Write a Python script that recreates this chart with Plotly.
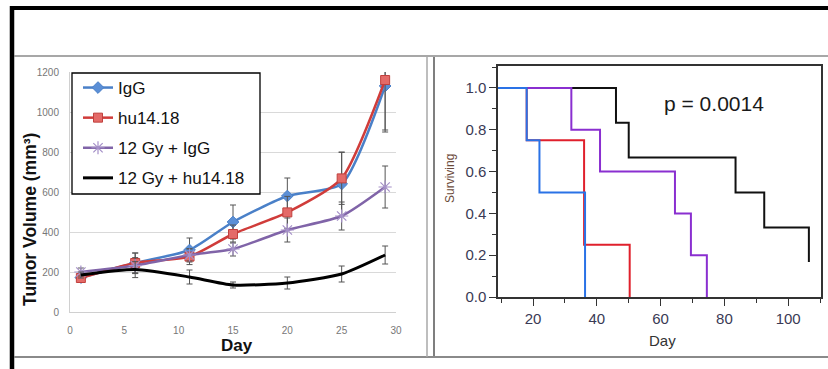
import plotly.graph_objects as go

W, H = 828, 369

# ---------------- data: tumor volume ----------------
days = [1, 6, 11, 15, 20, 25, 29]
igg = [172, 245, 310, 450, 580, 640, 1130]
igg_err = [15, 50, 60, 85, 90, 160, 220]
hu = [170, 245, 277, 390, 498, 668, 1160]
hu_err = [15, 50, 40, 45, 80, 130, 260]
gy_igg = [200, 232, 285, 315, 410, 480, 625]
gy_igg_err = [20, 40, 30, 35, 60, 70, 105]
gy_hu = [185, 212, 175, 135, 145, 190, 285]
gy_hu_err = [15, 40, 35, 15, 30, 40, 45]
legend_names = ["IgG", "hu14.18", "12 Gy + IgG", "12 Gy + hu14.18"]

# ---------------- data: survival (Kaplan-Meier steps) ----------------
km_blue_x = [0, 18, 22, 36.3]
km_blue_y = [1.0, 0.75, 0.5, 0.0]
km_red_x = [0, 18, 36, 50.3]
km_red_y = [1.0, 0.75, 0.25, 0.0]
km_purple_x = [0, 32, 41, 64.5, 69.5, 74.5]
km_purple_y = [1.0, 0.8, 0.6, 0.4, 0.2, 0.0]
km_black_x = [0, 46, 50, 83.5, 92.5, 106.5]
km_black_y = [1.0, 0.833, 0.667, 0.5, 0.333, 0.167]
p_text = "p = 0.0014"


def px(x):
    return x / W


def py(y):
    return 1 - y / H


FONT = "Arial, Liberation Sans, sans-serif"

fig = go.Figure()

err_style = dict(type="data", thickness=1, width=3, color="#555555")

fig.add_trace(go.Scatter(
    x=days, y=igg, name=legend_names[0], legendgroup="a",
    mode="lines+markers", line=dict(color="#4a80c8", width=2.5, shape="spline", smoothing=0.6),
    marker=dict(symbol="diamond", size=9, color="#5b8fd6", line=dict(color="#4a80c8", width=1)),
    error_y=dict(array=igg_err, **err_style), xaxis="x", yaxis="y"))
fig.add_trace(go.Scatter(
    x=days, y=hu, name=legend_names[1], legendgroup="b",
    mode="lines+markers", line=dict(color="#d03c3a", width=2.5, shape="spline", smoothing=0.6),
    marker=dict(symbol="square", size=9, color="#e46a68", line=dict(color="#c0403d", width=1)),
    error_y=dict(array=hu_err, **err_style), xaxis="x", yaxis="y"))
fig.add_trace(go.Scatter(
    x=days, y=gy_igg, name=legend_names[2], legendgroup="c",
    mode="lines+markers", line=dict(color="#8064a8", width=2.5, shape="spline", smoothing=0.6),
    marker=dict(symbol="asterisk-open", size=11, color="#a590c8", line=dict(color="#a08cc4", width=1.2)),
    error_y=dict(array=gy_igg_err, **err_style), xaxis="x", yaxis="y"))
fig.add_trace(go.Scatter(
    x=days, y=gy_hu, name=legend_names[3], legendgroup="d",
    mode="lines", line=dict(color="#000000", width=3, shape="spline", smoothing=0.6),
    error_y=dict(array=gy_hu_err, **err_style), xaxis="x", yaxis="y"))

# survival curves (drawn black, purple, red, blue so blue is on top)
for xs, ys, col in [(km_black_x, km_black_y, "#111111"),
                    (km_purple_x, km_purple_y, "#8a2fd0"),
                    (km_red_x, km_red_y, "#e0202c"),
                    (km_blue_x, km_blue_y, "#2a72e6")]:
    fig.add_trace(go.Scatter(x=xs, y=ys, mode="lines", line=dict(color=col, width=2, shape="hv"),
                             showlegend=False, xaxis="x2", yaxis="y2", hoverinfo="skip"))

left_tick_font = dict(family=FONT, size=10, color="#777777")
right_tick_font = dict(family=FONT, size=15, color="#3a3a55")

fig.update_layout(
    template="none",
    width=W, height=H, autosize=False,
    margin=dict(l=0, r=0, t=0, b=0, pad=0, autoexpand=False),
    paper_bgcolor="white", plot_bgcolor="white",
    font=dict(family=FONT),
    xaxis=dict(domain=[px(70), px(396)], range=[0, 30], dtick=5, tick0=0, automargin=False,
               showgrid=False, zeroline=False, showline=True, linecolor="#d0d0d0", linewidth=1,
               ticks="", tickfont=left_tick_font, ticklabelstandoff=9, anchor="y"),
    yaxis=dict(domain=[py(312), py(72)], range=[0, 1200], dtick=200, tick0=0, automargin=False,
               showgrid=True, gridcolor="#d9d9d9", gridwidth=1, zeroline=False,
               showline=True, linecolor="#d0d0d0", linewidth=1,
               ticks="", tickfont=left_tick_font, ticklabelstandoff=8, anchor="x"),
    xaxis2=dict(domain=[px(498), px(821)], range=[9, 110.3], dtick=20, tick0=0, automargin=False,
                showgrid=False, zeroline=False, showline=True, mirror=True,
                linecolor="#333333", linewidth=1.5, ticks="outside", ticklen=7, tickwidth=1.2,
                tickcolor="#333333", tickfont=right_tick_font,
                minor=dict(dtick=10, tick0=0, ticks="outside", ticklen=4, tickcolor="#333333", tickwidth=1),
                anchor="y2"),
    yaxis2=dict(domain=[py(297), py(66)], range=[0, 1.105], dtick=0.2, tick0=0, tickformat=".1f",
                automargin=False,
                showgrid=False, zeroline=False, showline=True, mirror=True,
                linecolor="#333333", linewidth=1.5, ticks="outside", ticklen=7, tickwidth=1.2,
                tickcolor="#333333", tickfont=right_tick_font,
                minor=dict(dtick=0.1, tick0=0, ticks="outside", ticklen=4, tickcolor="#333333", tickwidth=1),
                anchor="x2"),
    legend=dict(x=px(78), y=py(70), xanchor="left", yanchor="top",
                bgcolor="rgba(0,0,0,0)", borderwidth=0,
                font=dict(family=FONT, size=17, color="#111111"),
                traceorder="grouped", tracegroupgap=5, itemwidth=30),
    showlegend=True,
)

annotations = [
    dict(text="<b>Tumor Volume (mm³)</b>", x=px(30), y=py(220), textangle=-90,
         font=dict(family=FONT, size=17.5, color="#111111")),
    dict(text="<b>Day</b>", x=px(237), y=py(345), font=dict(family=FONT, size=17, color="#111111")),
    dict(text="Surviving", x=px(450), y=py(179), textangle=-90,
         font=dict(family=FONT, size=12, color="#6b4a3a")),
    dict(text="Day", x=px(662), y=py(340), font=dict(family=FONT, size=15, color="#333333")),
    dict(text=p_text, x=px(714), y=py(103), font=dict(family=FONT, size=21, color="#1a1a1a")),
]
for a in annotations:
    a.update(xref="paper", yref="paper", showarrow=False, xanchor="center", yanchor="middle")
fig.update_layout(annotations=annotations)


def line(x0, y0, x1, y1, color, width):
    return dict(type="line", xref="paper", yref="paper", x0=px(x0), y0=py(y0), x1=px(x1), y1=py(y1),
                line=dict(color=color, width=width), layer="above")


# white legend frame (drawn above the gridlines, beneath the legend text)
legend_box = dict(type="rect", xref="paper", yref="paper",
                  x0=px(72), x1=px(260), y0=py(194), y1=py(73),
                  fillcolor="white", line=dict(color="#000000", width=1.3), layer="above")

shapes = [
    legend_box,
    line(10, 8, 828, 8, "#000000", 4),        # top black border
    line(12, 6, 12, 369, "#000000", 4.5),     # left black border
    line(14, 56, 828, 56, "#8a8a8a", 1.5),    # upper separator
    line(14, 357, 828, 357, "#8a8a8a", 2),    # lower separator
    line(427, 56, 427, 357, "#a8a8a8", 1.5),  # left panel right edge
    line(434, 57, 434, 356, "#555555", 1.5),  # right panel left edge
]
fig.update_layout(shapes=shapes)

fig.write_html("out.html", config={"displayModeBar": False},
               post_script="document.body.style.margin='0';document.body.style.overflow='hidden';")
